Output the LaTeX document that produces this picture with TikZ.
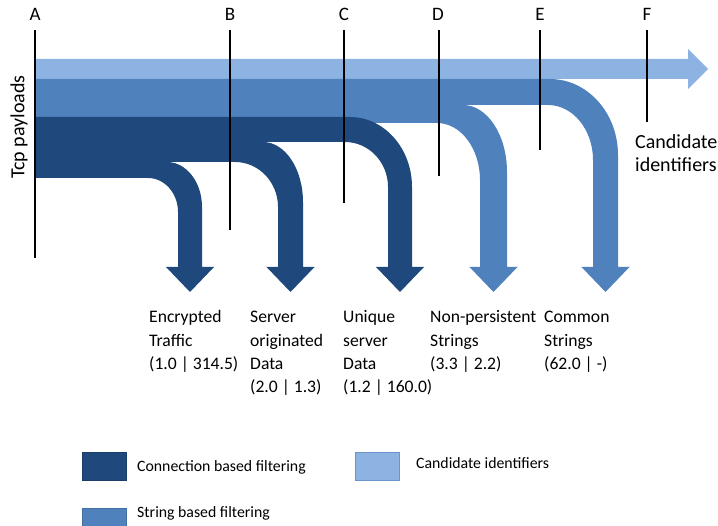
\documentclass[tikz,border=0pt]{standalone}
\usepackage{fontspec}
\setmainfont{Carlito}
\definecolor{lightflow}{HTML}{8DB3E2}
\definecolor{midflow}{HTML}{4F81BD}
\definecolor{darkflow}{HTML}{1F497D}
% #1 colour, #2 top y, #3 bottom y, #4 outer curve start x, #5 shaft right x,
% #6 outer curve end y, #7 inner curve start x, #8 shaft left x, #9 inner curve end y
\newcommand\bentflow[9]{%
  \fill[#1] (35,#2) -- (#4,#2)
    .. controls ({#4+0.552*(#5-#4)},#2) and (#5,{#6-0.552*(#6-#2)}) .. (#5,#6)
    -- (#5,267) -- ({(#5+#8)/2+24},267) -- ({(#5+#8)/2},292) -- ({(#5+#8)/2-24},267)
    -- (#8,267) -- (#8,#9)
    .. controls (#8,{#9-0.552*(#9-#3)}) and ({#7+0.552*(#8-#7)},#3) .. (#7,#3)
    -- (35,#3) -- cycle;}
\begin{document}
\begin{tikzpicture}[x=1pt,y=-1pt,
  marker/.style={line width=2pt,black},
  letter/.style={font=\fontsize{19}{23}\selectfont,anchor=base,inner sep=0pt},
  lbl/.style={font=\fontsize{17.6}{22}\selectfont,anchor=base west,inner sep=0pt},
  biglbl/.style={font=\fontsize{20}{23}\selectfont,anchor=base west,inner sep=0pt},
  leg/.style={font=\fontsize{15.8}{19}\selectfont,anchor=base west,inner sep=0pt},
  legbox/.style={line width=0.6pt}]
\useasboundingbox (0,0) rectangle (718,526);
\clip (0,0) rectangle (718,526);
% candidate identifiers flow (light)
\fill[lightflow] (35,59) -- (688,59) -- (688,49) -- (708,69) -- (688,89) -- (688,79) -- (35,79) -- cycle;
% string based filtering flows (medium)
\bentflow{midflow}{79}{105}{550}{618}{155}{548}{593}{160}
\bentflow{midflow}{105}{123}{463}{507}{172}{437}{480}{180}
% connection based filtering flows (dark)
\bentflow{darkflow}{117}{142}{350}{412}{187}{345}{388}{187}
\bentflow{darkflow}{142}{162}{263}{303}{202}{235}{278}{207}
\bentflow{darkflow}{162}{178}{167}{202}{207}{148}{178}{212}
% markers
\draw[marker] (35,30) -- (35,258);
\draw[marker] (230,30) -- (230,230);
\draw[marker] (344,30) -- (344,203);
\draw[marker] (439,30) -- (439,176);
\draw[marker] (540,30) -- (540,150);
\draw[marker] (647,30) -- (647,122);
\node[letter] (lA) at (35,20.5) {A};
\node[letter] (lB) at (230,20.5) {B};
\node[letter] (lC) at (344,20.5) {C};
\node[letter] (lD) at (438,20.5) {D};
\node[letter] (lE) at (540,20.5) {E};
\node[letter] (lF) at (647,20.5) {F};
\node[font=\fontsize{20}{23}\selectfont,rotate=90,inner sep=0pt] (tcp) at (19,127) {Tcp payloads};
\node[biglbl] (cand1) at (635,149) {Candidate};
\node[biglbl] (cand2) at (635,172) {identifiers};
% outcome labels
\node[lbl] (enc1) at (149,323) {Encrypted};
\node[lbl] (enc2) at (149,346.3) {Traffic};
\node[lbl] (enc3) at (149,369.6) {(1.0 | 314.5)};
\node[lbl] (srv1) at (250,323) {Server};
\node[lbl] (srv2) at (250,346.3) {originated};
\node[lbl] (srv3) at (250,369.6) {Data};
\node[lbl] (srv4) at (250,392.9) {(2.0 | 1.3)};
\node[lbl] (uni1) at (343,323) {Unique};
\node[lbl] (uni2) at (343,346.3) {server};
\node[lbl] (uni3) at (343,369.6) {Data};
\node[lbl] (uni4) at (343,392.9) {(1.2 | 160.0)};
\node[lbl] (non1) at (430,323) {Non-persistent};
\node[lbl] (non2) at (430,346.3) {Strings};
\node[lbl] (non3) at (430,369.6) {(3.3 | 2.2)};
\node[lbl] (com1) at (544,323) {Common};
\node[lbl] (com2) at (544,346.3) {Strings};
\node[lbl] (com3) at (544,369.6) {(62.0 | -)};
% legend
\filldraw[legbox,fill=darkflow,draw=darkflow!85!black] (82,452) rectangle (126,480);
\filldraw[legbox,fill=lightflow,draw=midflow!60!lightflow] (355,452) rectangle (399,480);
\filldraw[legbox,fill=midflow,draw=midflow!85!black] (82,508) rectangle (126,536);
\node[leg] (leg1) at (137,472) {Connection based filtering};
\node[leg] (leg2) at (416,469) {Candidate identifiers};
\node[leg] (leg3) at (137,518) {String based filtering};
\end{tikzpicture}
\end{document}
